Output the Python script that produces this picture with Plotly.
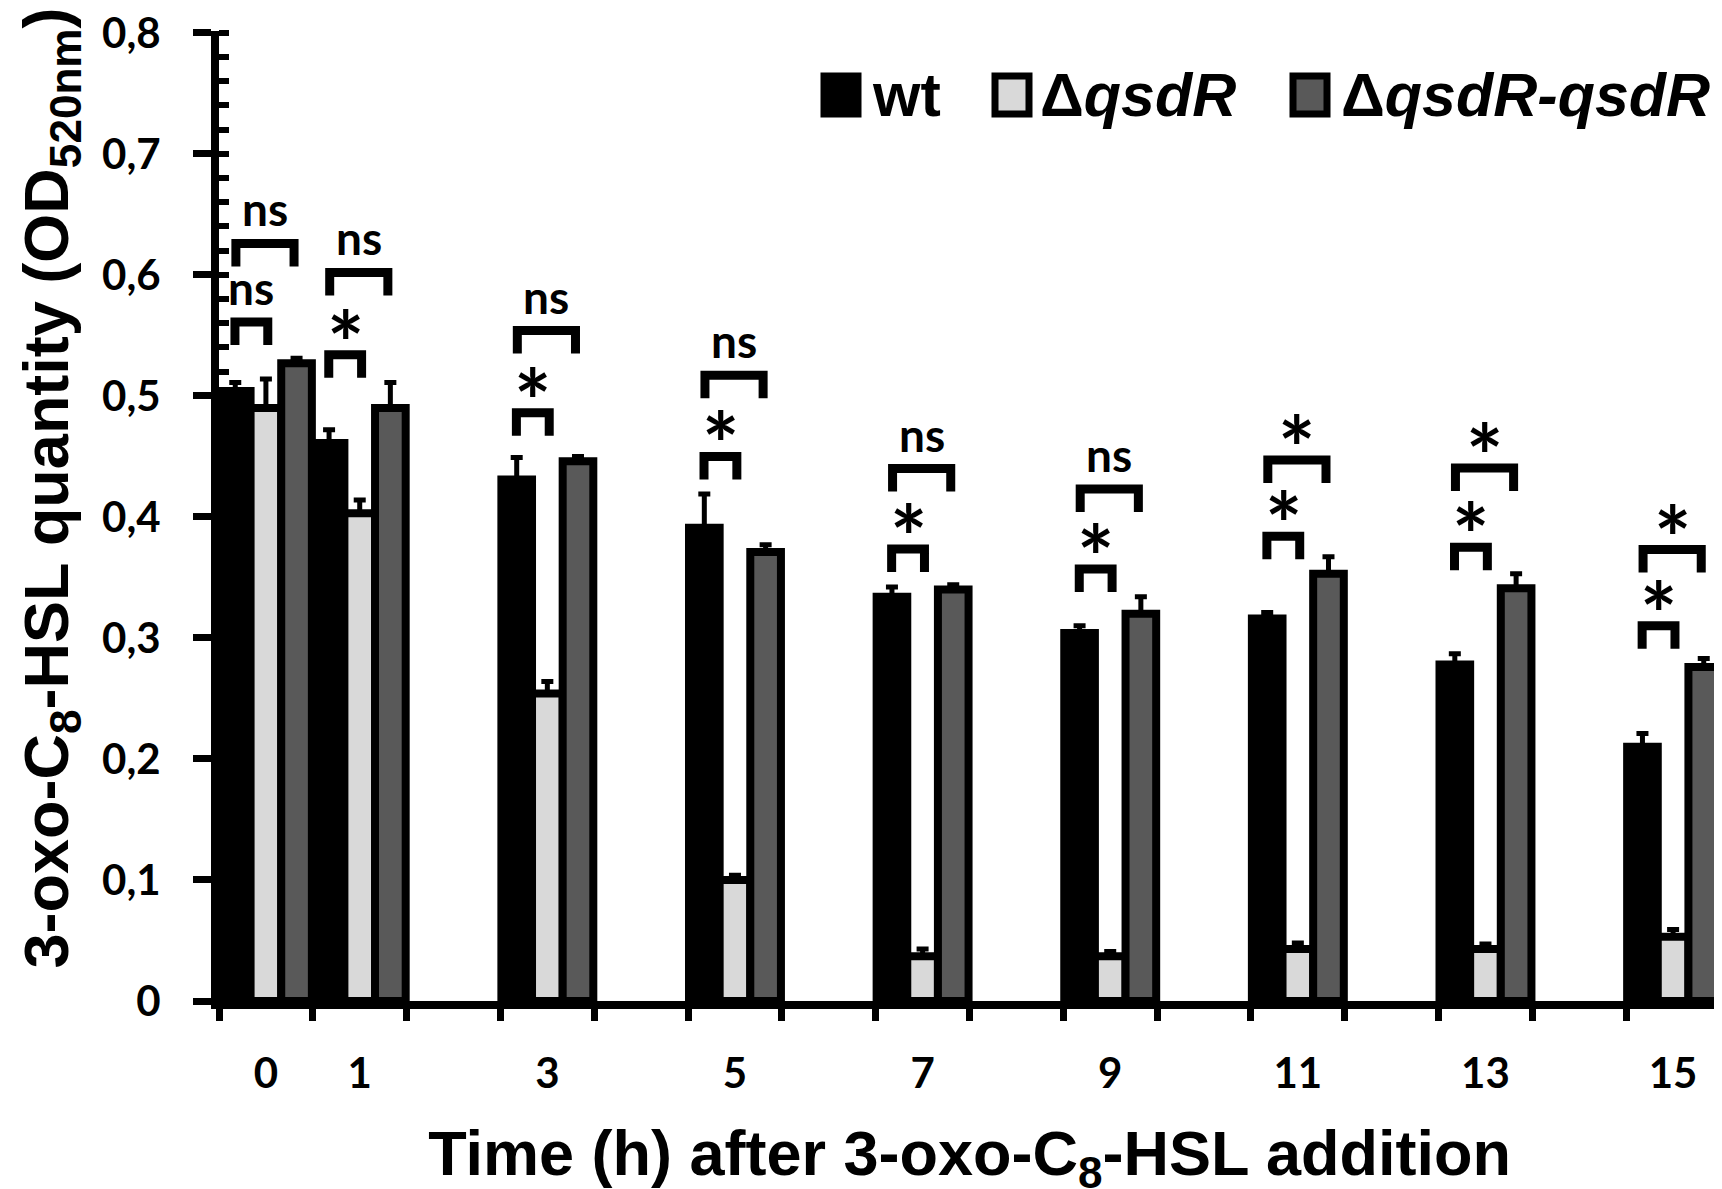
import plotly.graph_objects as go

# time points (h) and 3-oxo-C8-HSL quantity (OD520nm)
times = [0, 1, 3, 5, 7, 9, 11, 13, 15]
wt = [0.504, 0.461, 0.431, 0.391, 0.334, 0.304, 0.316, 0.278, 0.210]
wt_err = [0.007, 0.011, 0.018, 0.028, 0.008, 0.006, 0.005, 0.009, 0.011]
qsdr = [0.490, 0.403, 0.254, 0.100, 0.037, 0.037, 0.043, 0.043, 0.053]
qsdr_err = [0.024, 0.011, 0.010, 0.004, 0.006, 0.004, 0.005, 0.004, 0.006]
comp = [0.527, 0.490, 0.446, 0.371, 0.340, 0.320, 0.353, 0.341, 0.276]
comp_err = [0.004, 0.021, 0.004, 0.006, 0.004, 0.014, 0.014, 0.012, 0.007]

# significance brackets: wt vs dqsdR (small) and wt vs complemented (big)
small_lvl = [0.561, 0.534, 0.486, 0.450, 0.3735, 0.357, 0.384, 0.375, 0.310]
small_lbl = ["ns", "*", "*", "*", "*", "*", "*", "*", "*"]
big_lvl = [0.626, 0.602, 0.554, 0.517, 0.440, 0.423, 0.447, 0.4405, 0.373]
big_lbl = ["ns", "ns", "ns", "ns", "ns", "ns", "*", "*", "*"]

y_ticks = [0, 0.1, 0.2, 0.3, 0.4, 0.5, 0.6, 0.7, 0.8]

names = ["wt", "Δ<i>qsdR</i>", "Δ<i>qsdR-qsdR</i>"]
colors = ["#000000", "#d9d9d9", "#595959"]

W, H = 1722, 1189
L, R, T, B = 211, 10, 23, 196
tick_font = dict(family="Lato, Open Sans, sans-serif", size=42, color="black", weight="bold")
title_family = "Liberation Sans Narrow, Arial Narrow, Liberation Sans, Arial, sans-serif"

pw, ph = W - L - R, H - T - B
def px(x):
    return (x - L) / pw
def py(y):
    return (H - B - y) / ph

fig = go.Figure()
for name, ys, es, c in zip(names, [wt, qsdr, comp], [wt_err, qsdr_err, comp_err], colors):
    fig.add_trace(go.Bar(
        x=times, y=ys, name=name, showlegend=False,
        marker=dict(color=c, line=dict(color="black", width=8)),
        error_y=dict(type="data", array=es, arrayminus=[0] * len(es), symmetric=False,
                     color="black", thickness=5, width=6),
    ))


def bracket(t, lv, lb, x0, x1):
    fig.add_shape(type="path", xref="x", yref="y",
                  path=f"M {x0},{lv - 0.019} L {x0},{lv} L {x1},{lv} L {x1},{lv - 0.019}",
                  line=dict(color="black", width=9))
    star = lb == "*"
    fig.add_annotation(x=(x0 + x1) / 2, y=lv, text=lb, showarrow=False,
                       yanchor="bottom", yshift=(-42 if star else 5),
                       font=dict(family="Lato, sans-serif", size=(88 if star else 46),
                                 color="black", weight="bold"))


for t, lv, lb in zip(times, small_lvl, small_lbl):
    bracket(t, lv, lb, t - 0.33, t + 0.02)
for t, lv, lb in zip(times, big_lvl, big_lbl):
    bracket(t, lv, lb, t - 0.32, t + 0.30)

# hand made legend (bigger swatches than plotly's own)
leg_sw = [833, 1004, 1302]
leg_tx = [862, 1030, 1331]
for c, sx, tx, name in zip(colors, leg_sw, leg_tx, names):
    fig.add_shape(type="rect", xref="paper", yref="paper",
                  x0=px(sx - 17), x1=px(sx + 17), y0=py(106), y1=py(68),
                  fillcolor=c, line=dict(color="black", width=7))
    fig.add_annotation(xref="paper", yref="paper", x=px(tx), y=py(87), text=name,
                       showarrow=False, xanchor="left", yanchor="middle",
                       font=dict(family=title_family, size=61, color="black", weight="bold"))

# y title as annotation so it can sit exactly where the original has it
fig.add_annotation(xref="paper", yref="paper", x=px(0), y=py(480),
                   text="3-oxo-C<sub>8</sub>-HSL quantity (OD<sub>520nm</sub>)",
                   textangle=-90, showarrow=False, xanchor="left", yanchor="middle",
                   font=dict(family=title_family, size=63, color="black", weight="bold"))

fig.update_layout(
    width=W, height=H,
    margin=dict(l=L, r=R, t=T, b=B),
    plot_bgcolor="white", paper_bgcolor="white",
    barmode="group", bargap=0.02, bargroupgap=0,
    separators=", ",
    xaxis=dict(
        range=[-0.5, 15.5], tickmode="array", tickvals=times,
        ticktext=[str(t) for t in times], ticks="", ticklabelstandoff=29,
        tickfont=tick_font, showgrid=False, zeroline=False, automargin=False,
        showline=True, linecolor="black", linewidth=8,
        minor=dict(tick0=-0.5, dtick=1, ticks="outside", ticklen=12,
                   tickwidth=7, tickcolor="black", showgrid=False),
        title=dict(text="Time (h) after 3-oxo-C<sub>8</sub>-HSL addition", standoff=46,
                   font=dict(family=title_family, size=63, color="black", weight="bold")),
    ),
    yaxis=dict(
        range=[0, 0.8015], tickmode="array", tickvals=y_ticks, tickformat=".1~f",
        ticks="outside", ticklen=18, tickwidth=7, tickcolor="black",
        ticklabelstandoff=24, tickfont=tick_font, ticklabeloverflow="allow",
        showgrid=False, zeroline=False, automargin=False,
        showline=True, linecolor="black", linewidth=8,
        minor=dict(tick0=0, dtick=0.02, ticks="inside", ticklen=10, tickwidth=6,
                   tickcolor="black", showgrid=False),
    ),
)

fig.write_html("out.html")
